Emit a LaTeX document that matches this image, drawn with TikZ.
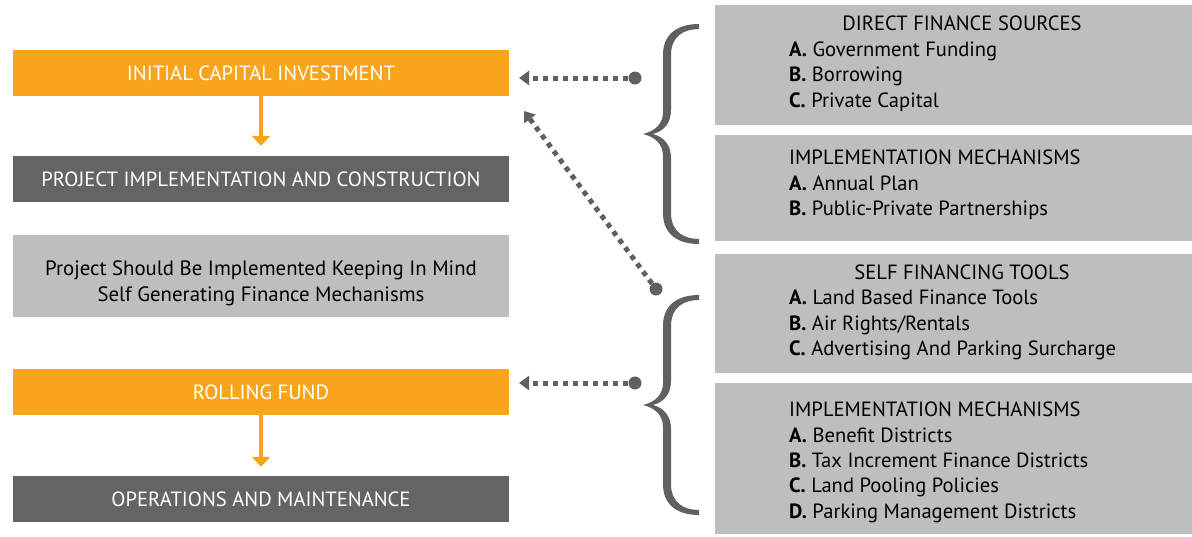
\documentclass[tikz,border=0pt]{standalone}
\usepackage{fontspec}
\setmainfont{PT Sans}
\usetikzlibrary{arrows.meta}
\definecolor{orng}{HTML}{F8A51B}
\definecolor{dgrey}{HTML}{636466}
\definecolor{lgrey}{HTML}{BDBEC0}
\definecolor{bgrey}{HTML}{5F6062}
\tikzset{
  leftbox/.style={minimum width=496pt, minimum height=46pt, inner sep=0pt, text=white, font=\fontsize{20.6}{24}\selectfont},
  orangebox/.style={leftbox, fill=orng},
  darkbox/.style={leftbox, fill=dgrey},
  notebox/.style={minimum width=496pt, minimum height=82pt, inner sep=0pt, fill=lgrey},
  rightbox/.style={fill=lgrey, inner sep=0pt, anchor=north west},
  rtxt/.style={inner sep=0pt, anchor=base west, font=\fontsize{20.6}{24}\selectfont, text=black},
  rtitle/.style={inner sep=0pt, anchor=base, font=\fontsize{20.6}{24}\selectfont, text=black},
  ltxt/.style={inner sep=0pt, anchor=base, font=\fontsize{20.8}{24}\selectfont, text=black},
  flowarrow/.style={draw=orng, line width=4.5pt, -{Triangle[length=10pt,width=18pt]}},
  dashline/.style={draw=bgrey, line width=5pt, dash pattern=on 5pt off 5pt, -{Triangle[length=10pt,width=14pt]}},
  dotnode/.style={circle, fill=bgrey, minimum size=13pt, inner sep=0pt},
  bracefill/.style={fill=bgrey, draw=none}
}
\begin{document}
\begin{tikzpicture}[x=1pt,y=-1pt]
\useasboundingbox (0,0) rectangle (1192,536);

% left column
\node[orangebox] (ici) at (261,73) {INITIAL CAPITAL INVESTMENT};
\node[darkbox] (pic) at (261,179) {PROJECT IMPLEMENTATION AND CONSTRUCTION};
\node[notebox] (note) at (261,276) {};
\node[ltxt] (note1) at (261,275) {Project Should Be Implemented Keeping In Mind};
\node[ltxt] (note2) at (261,301) {Self Generating Finance Mechanisms};
\node[orangebox] (rf) at (261,392) {ROLLING FUND};
\node[darkbox] (om) at (261,499) {OPERATIONS AND MAINTENANCE};

\draw[flowarrow, shorten >=10pt] (ici.south) -- (pic.north);
\draw[flowarrow, shorten >=9pt] (rf.south) -- (om.north);

% right boxes
\node[rightbox, minimum width=477pt, minimum height=120pt] (b1) at (715,5) {};
\node[rightbox, minimum width=477pt, minimum height=106pt] (b2) at (715,135) {};
\node[rightbox, minimum width=477pt, minimum height=119pt] (b3) at (715,254) {};
\node[rightbox, minimum width=477pt, minimum height=151pt] (b4) at (715,383) {};

\node[rtitle] (b1t) at (962,30) {DIRECT FINANCE SOURCES};
\node[rtxt] (b1a) at (789,56) {\textbf{A.} Government Funding};
\node[rtxt] (b1b) at (789,81.5) {\textbf{B.} Borrowing};
\node[rtxt] (b1c) at (789,107) {\textbf{C.} Private Capital};

\node[rtxt] (b2t) at (789,164) {IMPLEMENTATION MECHANISMS};
\node[rtxt] (b2a) at (789,190) {\textbf{A.} Annual Plan};
\node[rtxt] (b2b) at (789,215) {\textbf{B.} Public-Private Partnerships};

\node[rtitle] (b3t) at (962,279) {SELF FINANCING TOOLS};
\node[rtxt] (b3a) at (789,304) {\textbf{A.} Land Based Finance Tools};
\node[rtxt] (b3b) at (789,330) {\textbf{B.} Air Rights/Rentals};
\node[rtxt] (b3c) at (789,355) {\textbf{C.} Advertising And Parking Surcharge};

\node[rtxt] (b4t) at (789,416) {IMPLEMENTATION MECHANISMS};
\node[rtxt] (b4a) at (789,442) {\textbf{A.} Benefit Districts};
\node[rtxt] (b4b) at (789,467) {\textbf{B.} Tax Increment Finance Districts};
\node[rtxt] (b4c) at (789,492) {\textbf{C.} Land Pooling Policies};
\node[rtxt] (b4d) at (789,518) {\textbf{D.} Parking Management Districts};

% braces
\foreach \s in {0,271}{
\begin{scope}[shift={(0,\s)}]
\fill[bracefill] (699,24) .. controls (680,24) and (663,32) .. (663,55)
  -- (663,112) .. controls (663,124) and (655,131) .. (643,134)
  .. controls (655,137) and (663,144) .. (663,156)
  -- (663,213) .. controls (663,236) and (680,244) .. (699,244)
  -- (699,239) .. controls (684,239) and (671,232) .. (671,213)
  -- (671,158) .. controls (671,145) and (664,137) .. (653,134)
  .. controls (664,131) and (671,123) .. (671,110)
  -- (671,55) .. controls (671,36) and (684,29) .. (699,29) -- cycle;
\end{scope}
}

% dashed connectors
\node[dotnode] (d1) at (635,78) {};
\node[dotnode] (d2) at (656,289) {};
\node[dotnode] (d3) at (635,383) {};
\coordinate (t1) at (519,78);
\coordinate (t2) at (524,111);
\coordinate (t3) at (519,383);
\draw[dashline] (d1) -- (t1);
\draw[dashline] (d2) -- (t2);
\draw[dashline] (d3) -- (t3);
\end{tikzpicture}
\end{document}
